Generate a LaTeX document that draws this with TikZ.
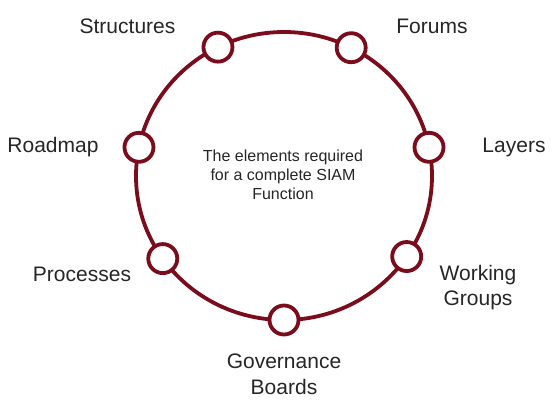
\documentclass[tikz,border=0pt]{standalone}
\usepackage{fontspec}
\setmainfont{Liberation Sans}
\usetikzlibrary{calc}
\definecolor{ringred}{HTML}{7A0C1C}
\definecolor{txtgray}{HTML}{262626}
\begin{document}
\begin{tikzpicture}[x=1pt,y=-1pt,
  ringline/.style={draw=ringred,line width=3.8pt},
  dot/.style={circle,ringline,fill=white,minimum size=29pt,inner sep=0pt},
  lbl/.style={anchor=base,inner sep=0pt,text=txtgray,font=\fontsize{21}{25.5}\selectfont,align=center},
  midtxt/.style={anchor=base,inner sep=0pt,text=txtgray,font=\fontsize{16}{19}\selectfont,align=center}]
\useasboundingbox[fill=white] (0,0) rectangle (557,408);
\coordinate (C) at (284,176);
\draw[ringline] (C) ellipse [x radius=148pt, y radius=144pt];
\node[dot] (forums) at ($(C)+(63:148pt and 144pt)$) {};
\node[dot] (structures) at ($(C)+(116.5:148pt and 144pt)$) {};
\node[dot] (roadmap) at ($(C)+(168.5:148pt and 144pt)$) {};
\node[dot] (layers) at ($(C)+(11.5:148pt and 144pt)$) {};
\node[dot] (processes) at ($(C)+(215:148pt and 144pt)$) {};
\node[dot] (working) at ($(C)+(-34:148pt and 144pt)$) {};
\node[dot] (governance) at ($(C)+(270:148pt and 144pt)$) {};
\node[lbl] (tstructures) at (127.5,33) {Structures};
\node[lbl] (tforums) at (432,33) {Forums};
\node[lbl] (troadmap) at (53,152.7) {Roadmap};
\node[lbl] (tlayers) at (514,152.7) {Layers};
\node[lbl] (tprocesses) at (82,281) {Processes};
\node[lbl] (tworking) at (478,305.5) {Working\\Groups};
\node[lbl] (tgovernance) at (284,394) {Governance\\Boards};
\node[midtxt] (center) at (283,199) {The elements required\\for a complete SIAM\\Function};
\end{tikzpicture}
\end{document}
